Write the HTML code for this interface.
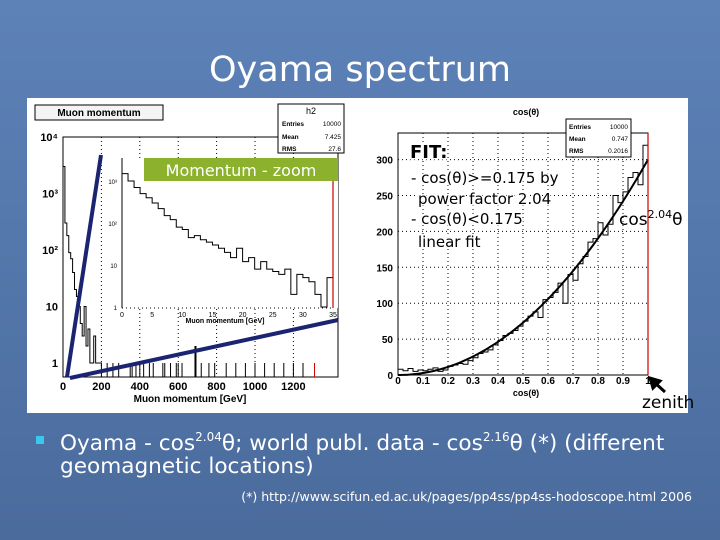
<!DOCTYPE html>
<html><head><meta charset="utf-8"><style>
html,body{margin:0;padding:0}
body{width:720px;height:540px;overflow:hidden;background:#4f72a4;font-family:"DejaVu Sans","Liberation Sans",sans-serif;}
svg{position:absolute;left:0;top:0}
</style></head><body>
<svg id="s" width="720" height="540" viewBox="0 0 720 540" xmlns="http://www.w3.org/2000/svg">
<defs><linearGradient id="bg" x1="0" y1="0" x2="0" y2="1"><stop offset="0" stop-color="#5d82b8"/><stop offset="1" stop-color="#4a6b9c"/></linearGradient></defs>
<rect width="720" height="540" fill="url(#bg)"/>
<text x="360" y="81" text-anchor="middle" fill="#fff" font-size="35">Oyama spectrum</text>
<rect x="27" y="98" width="661" height="315" fill="#fff"/>
<g id="left"></g>
<g id="right"></g>
<rect x="36" y="436" width="8" height="8" fill="#38c8f0"/>
<text x="60" y="450" fill="#fff" font-size="21.6">Oyama - cos<tspan font-size="12" dy="-9">2.04</tspan><tspan dy="9">θ; world publ. data - cos</tspan><tspan font-size="12" dy="-9">2.16</tspan><tspan dy="9">θ (*) (different</tspan></text>
<text x="60" y="473" fill="#fff" font-size="21.6">geomagnetic locations)</text>
<text x="692" y="501" text-anchor="end" fill="#fff" font-size="12.5">(*) http://www.scifun.ed.ac.uk/pages/pp4ss/pp4ss-hodoscope.html  2006</text>
</svg>
<script>
// ---- left chart data ----
const mainCounts=[3000,300,180,90,70,40,20,15,10,5,3,10,2,4,1,1,3,1,1,1];
const sparseP=[230,260,290,350,360,380,400,420,450,470,520,530,560,590,600,620,690,720,760,790,850,900,950,1000,1050,1100,1150,1200,1250,1310];
const sparseC=[1,1,1,1,1,1,1,1,1,1,1,1,1,1,1,1,2,1,1,1,1,1,1,1,1,1,1,1,1,1];
const mainXTicks=[0,200,400,600,800,1000,1200];
const mainYTicks=[1,10,100,1000,10000];
const mainYLabels=["1","10","10²","10³","10⁴"];
const insetCounts=[1500,1000,700,500,400,300,220,150,120,80,70,45,50,40,35,30,25,20,15,25,12,15,8,12,8,7,6,8,2,6,5,4,2,1,5];
const insetXTicks=[0,5,10,15,20,25,30,35];
const insetYTicks=[1,10,100,1000];
const insetYLabels=["1","10","10²","10³"];
// ---- right chart data ----
const cosCounts=[8,6,9,5,7,6,8,10,5,7,12,14,16,15,20,24,30,32,35,42,48,55,58,62,68,75,82,88,80,105,108,115,128,100,140,132,155,165,185,190,212,195,210,250,240,255,275,282,265,320];
const cosXTicks=[0,0.1,0.2,0.3,0.4,0.5,0.6,0.7,0.8,0.9,1];
const cosYTicks=[0,50,100,150,200,250,300];
const fitAmp=[300];
const fitPow=[2.04];

const NS="http://www.w3.org/2000/svg";
function mk(p,tag,attrs,txt){const e=document.createElementNS(NS,tag);for(const k in attrs)e.setAttribute(k,attrs[k]);if(txt!=null)e.textContent=txt;p.appendChild(e);return e;}
const L=document.getElementById('left'),R=document.getElementById('right');
const mx=v=>63+v*0.192, my=v=>363-Math.log10(v)*56.5;
const mBottom=377;
let e;
e=mk(L,'rect',{x:63,y:137,width:275,height:240,fill:'none',stroke:'#000','stroke-width':1});

mainXTicks.forEach(t=>{if(t>0){e=mk(L,'line',{x1:mx(t),x2:mx(t),y1:137,y2:mBottom,stroke:'#000','stroke-dasharray':'1,3','stroke-width':1});}
 e=mk(L,'text',{x:mx(t),y:390,'text-anchor':'middle','font-size':11,'font-weight':'bold','font-family':'Liberation Sans'},String(t));});
mainYTicks.forEach((t,i)=>{e=mk(L,'text',{x:58,y:my(t)+4,'text-anchor':'end','font-size':11,'font-weight':'bold','font-family':'Liberation Sans'},mainYLabels[i]);});
e=mk(L,'text',{x:190,y:402,'text-anchor':'middle','font-size':10,'font-weight':'bold','font-family':'Liberation Sans'},'Muon momentum [GeV]');
let d='M'+mx(0)+','+mBottom;
mainCounts.forEach((c,i)=>{const y=Math.min(mBottom,my(c));d+=' L'+mx(i*10)+','+y+' L'+mx(i*10+10)+','+y;});
d+=' L'+mx(200)+','+mBottom;
e=mk(L,'path',{d:d,fill:'none',stroke:'#000','stroke-width':1});
sparseP.forEach((p,i)=>{e=mk(L,'line',{x1:mx(p),x2:mx(p),y1:mBottom,y2:my(sparseC[i]),stroke:p===1310?'#c00':'#000','stroke-width':p===690?2:1});});
e=mk(L,'rect',{x:35,y:105,width:128,height:15,fill:'#f4f4f4',stroke:'#000'});
e=mk(L,'text',{x:99,y:116,'text-anchor':'middle','font-size':10,'font-weight':'bold','font-family':'Liberation Sans'},'Muon momentum');
e=mk(L,'rect',{x:278,y:104,width:66,height:49,fill:'#fff',stroke:'#000'});
e=mk(L,'text',{x:311,y:114,'text-anchor':'middle','font-size':9,'font-family':'Liberation Sans'},'h2');
[['Entries','10000',126],['Mean','7.425',139],['RMS','27.6',151]].forEach(r=>{e=mk(L,'text',{x:282,y:r[2],'font-size':6.5,'font-weight':'bold','font-family':'Liberation Sans'},r[0]);e=mk(L,'text',{x:341,y:r[2],'text-anchor':'end','font-size':6.5,'font-family':'Liberation Sans'},r[1]);});
const ix=v=>122+v*6.03, iy=v=>307-Math.log10(v)*42;
e=mk(L,'rect',{x:118,y:158,width:220,height:150,fill:'#fff'});
e=mk(L,'line',{x1:122,x2:122,y1:158,y2:308,stroke:'#000'});
e=mk(L,'line',{x1:122,x2:334,y1:308,y2:308,stroke:'#000','stroke-dasharray':'1,3'});
insetXTicks.forEach(t=>{e=mk(L,'text',{x:ix(t),y:317,'text-anchor':'middle','font-size':7,'font-family':'Liberation Sans'},String(t));});
insetYTicks.forEach((t,i)=>{e=mk(L,'text',{x:117,y:iy(t)+3,'text-anchor':'end','font-size':6,'font-family':'Liberation Sans'},insetYLabels[i]);});
e=mk(L,'text',{x:225,y:323,'text-anchor':'middle','font-size':7,'font-weight':'bold','font-family':'Liberation Sans'},'Muon momentum [GeV]');
d='';insetCounts.forEach((c,i)=>{const y=iy(c);d+=(i?' L':'M')+ix(i)+','+y+' L'+ix(i+1)+','+y;});
e=mk(L,'path',{d:d,fill:'none',stroke:'#000','stroke-width':1});
e=mk(L,'line',{x1:333,x2:333,y1:158,y2:308,stroke:'#c00','stroke-width':1.2});
e=mk(L,'rect',{x:144,y:158,width:194,height:23,fill:'#8cb12c'});
e=mk(L,'text',{x:241,y:176,'text-anchor':'middle','font-size':16,fill:'#fff'},'Momentum - zoom');
e=mk(L,'line',{x1:67,y1:377,x2:101,y2:155,stroke:'#1a2470','stroke-width':4});
e=mk(L,'line',{x1:70,y1:378,x2:338,y2:320,stroke:'#1a2470','stroke-width':4});
const rx=v=>398+v*250, ry=v=>375-v*0.718;
e=mk(R,'rect',{x:398,y:133,width:250,height:242,fill:'none',stroke:'#000'});
cosXTicks.forEach(t=>{if(t>0&&t<1){e=mk(R,'line',{x1:rx(t),x2:rx(t),y1:133,y2:375,stroke:'#000','stroke-dasharray':'1,3'});}
 e=mk(R,'text',{x:rx(t),y:384,'text-anchor':'middle','font-size':10,'font-weight':'bold','font-family':'Liberation Sans'},String(t));});
cosYTicks.forEach(t=>{if(t>0){e=mk(R,'line',{x1:398,x2:648,y1:ry(t),y2:ry(t),stroke:'#000','stroke-dasharray':'1,3'});}
 e=mk(R,'text',{x:393,y:ry(t)+4,'text-anchor':'end','font-size':10,'font-weight':'bold','font-family':'Liberation Sans'},String(t));});
e=mk(R,'text',{x:526,y:396,'text-anchor':'middle','font-size':9,'font-weight':'bold','font-family':'Liberation Sans'},'cos(θ)');
e=mk(R,'text',{x:526,y:115,'text-anchor':'middle','font-size':9,'font-weight':'bold','font-family':'Liberation Sans'},'cos(θ)');
const bw=1/cosCounts.length;
d='';cosCounts.forEach((c,i)=>{const y=ry(c);d+=(i?' L':'M')+rx(i*bw)+','+y+' L'+rx((i+1)*bw)+','+y;});
e=mk(R,'path',{d:d,fill:'none',stroke:'#000','stroke-width':1});
d='';for(let i=0;i<=100;i++){const x=i/100;d+=(i?' L':'M')+rx(x)+','+ry(fitAmp[0]*Math.pow(x,fitPow[0]));}
e=mk(R,'path',{d:d,fill:'none',stroke:'#000','stroke-width':2});
e=mk(R,'line',{x1:648,x2:648,y1:133,y2:375,stroke:'#c00','stroke-width':1.2});
e=mk(R,'rect',{x:566,y:119,width:65,height:38,fill:'#fff',stroke:'#000'});
[['Entries','10000',129],['Mean','0.747',141],['RMS','0.2016',153]].forEach(r=>{e=mk(R,'text',{x:569,y:r[2],'font-size':6.5,'font-weight':'bold','font-family':'Liberation Sans'},r[0]);e=mk(R,'text',{x:628,y:r[2],'text-anchor':'end','font-size':6.5,'font-family':'Liberation Sans'},r[1]);});
[['FIT:',410,158,18,'bold'],['- cos(θ)>=0.175 by',411,183,15,'normal'],[' power factor 2.04',418,204,15,'normal'],['- cos(θ)<0.175',411,224,15,'normal'],[' linear fit',418,247,15,'normal']].forEach(r=>{e=mk(R,'text',{x:r[1],y:r[2],'font-size':r[3],'font-weight':r[4],stroke:'#fff','stroke-width':3,'paint-order':'stroke',fill:'#000'},r[0]);});
e=mk(R,'text',{x:619,y:225,'font-size':17,fill:'#000'});
e.innerHTML='cos<tspan font-size="11" dy="-7">2.04</tspan><tspan dy="7">θ</tspan>';
e=mk(R,'path',{d:'M665,392 L654,382 M650,378 L660,381 L653,388 Z',stroke:'#000','stroke-width':3,fill:'#000'});
e=mk(R,'text',{x:642,y:408,'font-size':17,fill:'#000'},'zenith');
</script>
</body></html>
